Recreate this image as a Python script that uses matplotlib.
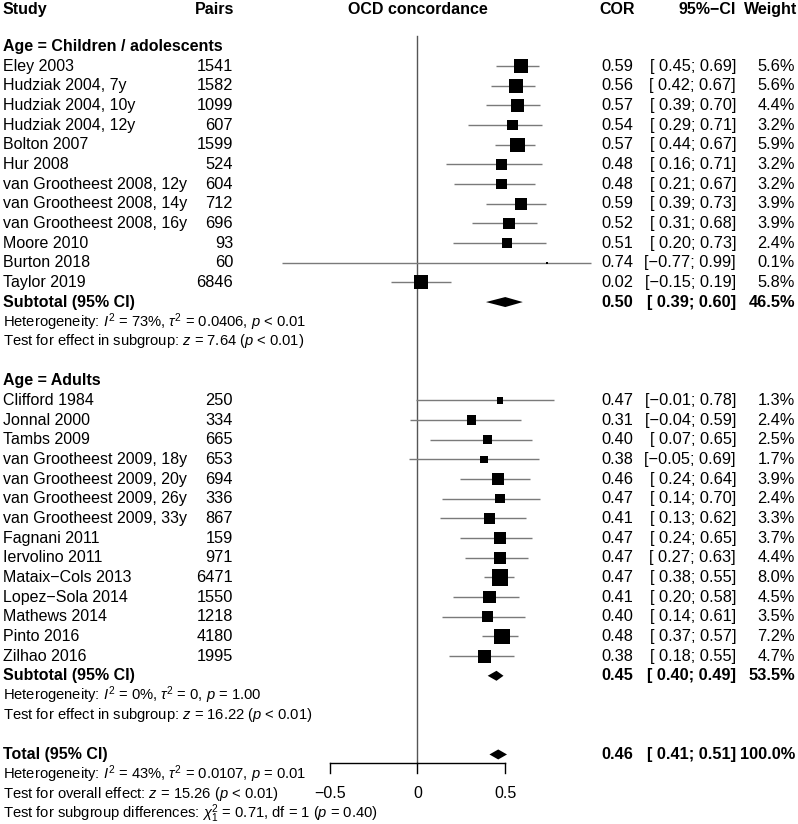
import matplotlib
matplotlib.use("Agg")
import matplotlib.pyplot as plt
from matplotlib.patches import Rectangle, Polygon
from matplotlib.transforms import blended_transform_factory
import numpy as np

plt.rcParams['font.family'] = ['Liberation Sans', 'DejaVu Sans']
plt.rcParams['mathtext.fontset'] = 'custom'
plt.rcParams['mathtext.rm'] = 'Liberation Sans'
plt.rcParams['mathtext.it'] = 'Liberation Sans:italic'
plt.rcParams['mathtext.bf'] = 'Liberation Sans:bold'

# --- data -------------------------------------------------------------
child_study = ["Eley 2003", "Hudziak 2004, 7y", "Hudziak 2004, 10y", "Hudziak 2004, 12y",
               "Bolton 2007", "Hur 2008", "van Grootheest 2008, 12y", "van Grootheest 2008, 14y",
               "van Grootheest 2008, 16y", "Moore 2010", "Burton 2018", "Taylor 2019"]
child_pairs = [1541, 1582, 1099, 607, 1599, 524, 604, 712, 696, 93, 60, 6846]
child_cor = [0.59, 0.56, 0.57, 0.54, 0.57, 0.48, 0.48, 0.59, 0.52, 0.51, 0.74, 0.02]
child_lo = [0.45, 0.42, 0.39, 0.29, 0.44, 0.16, 0.21, 0.39, 0.31, 0.20, -0.77, -0.15]
child_hi = [0.69, 0.67, 0.70, 0.71, 0.67, 0.71, 0.67, 0.73, 0.68, 0.73, 0.99, 0.19]
child_w = [5.6, 5.6, 4.4, 3.2, 5.9, 3.2, 3.2, 3.9, 3.9, 2.4, 0.1, 5.8]
child_sub = (0.50, 0.39, 0.60, 46.5)

adult_study = ["Clifford 1984", "Jonnal 2000", "Tambs 2009", "van Grootheest 2009, 18y",
               "van Grootheest 2009, 20y", "van Grootheest 2009, 26y", "van Grootheest 2009, 33y",
               "Fagnani 2011", "Iervolino 2011", "Mataix\u2212Cols 2013", "Lopez\u2212Sola 2014",
               "Mathews 2014", "Pinto 2016", "Zilhao 2016"]
adult_pairs = [250, 334, 665, 653, 694, 336, 867, 159, 971, 6471, 1550, 1218, 4180, 1995]
adult_cor = [0.47, 0.31, 0.40, 0.38, 0.46, 0.47, 0.41, 0.47, 0.47, 0.47, 0.41, 0.40, 0.48, 0.38]
adult_lo = [-0.01, -0.04, 0.07, -0.05, 0.24, 0.14, 0.13, 0.24, 0.27, 0.38, 0.20, 0.14, 0.37, 0.18]
adult_hi = [0.78, 0.59, 0.65, 0.69, 0.64, 0.70, 0.62, 0.65, 0.63, 0.55, 0.58, 0.61, 0.57, 0.55]
adult_w = [1.3, 2.4, 2.5, 1.7, 3.9, 2.4, 3.3, 3.7, 4.4, 8.0, 4.5, 3.5, 7.2, 4.7]
adult_sub = (0.45, 0.40, 0.49, 53.5)

total = (0.46, 0.41, 0.51, 100.0)

child_het = r"Heterogeneity: $I^2$ = 73%, $\tau^2$ = 0.0406, $p$ < 0.01"
child_test = r"Test for effect in subgroup: $z$ = 7.64 ($p$ < 0.01)"
adult_het = r"Heterogeneity: $I^2$ = 0%, $\tau^2$ = 0, $p$ = 1.00"
adult_test = r"Test for effect in subgroup: $z$ = 16.22 ($p$ < 0.01)"
total_het = r"Heterogeneity: $I^2$ = 43%, $\tau^2$ = 0.0107, $p$ = 0.01"
total_test = r"Test for overall effect: $z$ = 15.26 ($p$ < 0.01)"
sub_test = r"Test for subgroup differences: $\chi^2_1$ = 0.71, df = 1 ($p$ = 0.40)"

xticks = [-0.5, 0, 0.5]

# --- layout -----------------------------------------------------------
W, H = 798, 824
row_px = 19.67
y0_px = 7.0
x0_px = 417.5
unit_px = 175.5

fig = plt.figure(figsize=(W / 100, H / 100), dpi=100)
ax = fig.add_axes([0, 0, 1, 1])
ax.set_xlim(-x0_px / unit_px, (W - x0_px) / unit_px)
ax.set_ylim((H - y0_px) / row_px, -y0_px / row_px)
ax.axis("off")

FS = 11.5
FSN = 11.8   # numeric columns
FSH = 10.6   # heterogeneity / test lines

tt = blended_transform_factory(fig.transFigure, ax.transData)

col_study = 3
col_pairs = 233
col_cor = 633
col_ci = 736
col_w = 795

def fmt_ci(lo, hi):
    s = "[%5.2f; %4.2f]" % (lo, hi)
    return s.replace("-", "\u2212")

def put(px, row, s, ha="left", bold=False, size=FS, color="black"):
    ax.text(px / W, row, s, transform=tt, ha=ha, va="center", fontsize=size,
            fontweight="bold" if bold else "normal", color=color)

# header
hr = 0.15
put(col_study, hr, "Study", bold=True)
put(col_pairs + 1, hr, "Pairs", ha="right", bold=True)
ax.text(0, hr, "OCD concordance", ha="center", va="center", fontsize=FS, fontweight="bold")
put(col_cor + 2, hr, "COR", ha="right", bold=True)
put(col_ci, hr, "95%\u2212CI", ha="right", bold=True)
put(col_w + 2, hr, "Weight", ha="right", bold=True)

sq_k = 5.9  # px per sqrt(weight %)

def study_rows(start, names, pairs, cor, lo, hi, w):
    for i, (n, p, c, l, h, ww) in enumerate(zip(names, pairs, cor, lo, hi, w)):
        r = start + i
        put(col_study, r, n)
        put(col_pairs, r, str(p), ha="right", size=FSN)
        put(col_cor, r, "%.2f" % c, ha="right", size=FSN)
        put(col_ci, r, fmt_ci(l, h), ha="right", size=FSN)
        put(col_w, r, "%.1f%%" % ww, ha="right", size=FSN)
        ax.plot([l, h], [r, r], color="#7a7a7a", lw=1.0, solid_capstyle="butt", zorder=2)
        side = sq_k * np.sqrt(ww)
        sw = side / unit_px
        sh = side / row_px
        ax.add_patch(Rectangle((c - sw / 2, r - sh / 2), sw, sh, color="black", lw=0, zorder=3))

def diamond(r, est, lo, hi):
    hh = 5.0 / row_px
    ax.add_patch(Polygon([[lo, r], [est, r - hh], [hi, r], [est, r + hh]],
                         closed=True, color="black", lw=0, zorder=3))

def summary(r, label, vals):
    est, lo, hi, w = vals
    put(col_study, r, label, bold=True)
    put(col_cor, r, "%.2f" % est, ha="right", bold=True, size=FSN)
    put(col_ci, r, fmt_ci(lo, hi), ha="right", bold=True, size=FSN)
    put(col_w, r, "%.1f%%" % w, ha="right", bold=True, size=FSN)
    diamond(r, est, lo, hi)

put(col_study, 2, "Age = Children / adolescents", bold=True)
study_rows(3, child_study, child_pairs, child_cor, child_lo, child_hi, child_w)
summary(15, "Subtotal (95% CI)", child_sub)
put(col_study, 16, child_het, size=FSH)
put(col_study, 17, child_test, size=FSH)

put(col_study, 19, "Age = Adults", bold=True)
study_rows(20, adult_study, adult_pairs, adult_cor, adult_lo, adult_hi, adult_w)
summary(34, "Subtotal (95% CI)", adult_sub)
put(col_study, 35, adult_het, size=FSH)
put(col_study, 36, adult_test, size=FSH)

summary(38, "Total (95% CI)", total)
put(col_study, 39, total_het, size=FSH)
put(col_study, 40, total_test, size=FSH)
put(col_study, 41, sub_test, size=FSH)

# reference line and x axis
axis_row = (763 - y0_px) / row_px
tick_len = 10 / row_px
ax.plot([0, 0], [(36 - y0_px) / row_px, axis_row], color="#555555", lw=1.0, zorder=1)
ax.plot([xticks[0], xticks[-1]], [axis_row, axis_row], color="black", lw=1.0)
for t in xticks:
    ax.plot([t, t], [axis_row, axis_row + tick_len], color="black", lw=1.0)
    ax.text(t, axis_row + 1.53, ("%g" % t).replace("-", "\u2212"), ha="center", va="center",
            fontsize=FS)

fig.savefig("out.png", dpi=100)
